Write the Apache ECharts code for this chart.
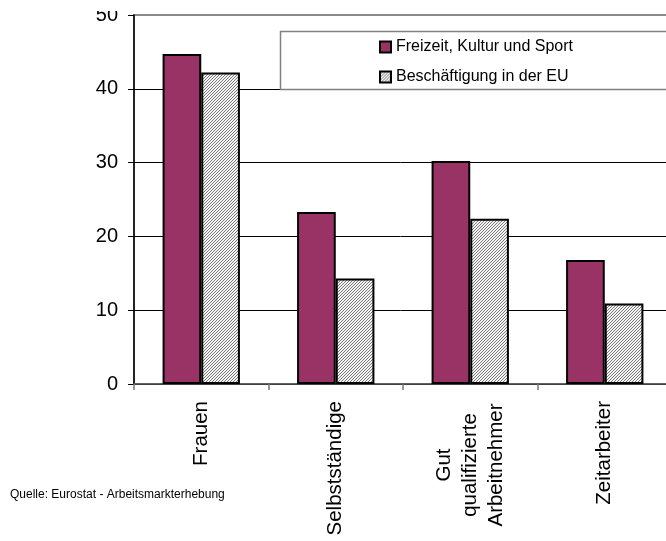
<!DOCTYPE html>
<html>
<head>
<meta charset="utf-8">
<script src="https://cdn.jsdelivr.net/npm/echarts@6/dist/echarts.min.js"></script>
<style>
html,body{margin:0;padding:0;background:#fff;}
#chart{width:666px;height:541px;}
</style>
</head>
<body>
<div id="chart"></div>
<script>
const categories = ['Frauen', 'Selbstständige', 'Gut\nqualifizierte\nArbeitnehmer', 'Zeitarbeiter'];
const seriesNames = ['Freizeit, Kultur und Sport', 'Beschäftigung in der EU'];
const freizeitValues = [44.7, 23.3, 30.2, 16.8];
const euValues = [42.2, 14.3, 22.4, 10.9];
const yTicks = [0, 10, 20, 30, 40, 50];
const sourceText = 'Quelle: Eurostat - Arbeitsmarkterhebung';

const FONT = "'Liberation Sans', Arial, sans-serif";

// fine hatch pattern
const pc = document.createElement('canvas');
pc.width = 3; pc.height = 3;
const pctx = pc.getContext('2d');
pctx.fillStyle = '#f4f4f4';
pctx.fillRect(0, 0, 3, 3);
pctx.fillStyle = '#7a7a7a';
pctx.fillRect(0, 2, 1, 1);
pctx.fillRect(1, 1, 1, 1);
pctx.fillRect(2, 0, 1, 1);

const chart = echarts.init(document.getElementById('chart'), null, {renderer: 'canvas'});
chart.setOption({
  animation: false,
  backgroundColor: '#ffffff',
  textStyle: {fontFamily: FONT},
  grid: {
    left: 134, top: 15, width: 538, bottom: 157,
    outerBoundsMode: 'none', containLabel: false,
    show: true, borderColor: '#8a8a8a', borderWidth: 2, backgroundColor: 'transparent'
  },
  legend: {
    orient: 'vertical',
    left: 374, top: 34,
    itemWidth: 11, itemHeight: 11, itemGap: 14,
    icon: 'rect',
    textStyle: {fontSize: 16, color: '#000', fontFamily: FONT},
    data: seriesNames
  },
  xAxis: {
    type: 'category',
    data: categories,
    axisLine: {show: true, lineStyle: {color: '#555', width: 1.5}},
    axisTick: {show: true, alignWithLabel: false, length: 6, lineStyle: {color: '#777', width: 1.5}},
    splitLine: {show: false},
    axisLabel: {
      rotate: 90, margin: 17, interval: 0,
      fontSize: 20.5, color: '#000', fontFamily: FONT,
      formatter: function (v) {
        if (v.indexOf('\n') >= 0) {
          return v.split('\n').map(s => '{c|' + s + '}').join('\n');
        }
        return v;
      },
      rich: {
        c: {width: 128, align: 'center', fontSize: 20.5, lineHeight: 26, color: '#000', fontFamily: FONT}
      }
    }
  },
  yAxis: {
    type: 'value',
    min: yTicks[0], max: yTicks[yTicks.length - 1], interval: 10,
    axisLine: {show: true, lineStyle: {color: '#000', width: 1.5}},
    axisTick: {show: true, inside: false, length: 6, lineStyle: {color: '#000', width: 1}},
    axisLabel: {fontSize: 20, color: '#000', margin: 16, fontFamily: FONT},
    splitLine: {show: true, lineStyle: {color: ['#000', '#000', '#000', '#000', '#000', '#8a8a8a'], width: 1}}
  },
  series: [
    {
      name: seriesNames[0], type: 'bar', data: freizeitValues,
      barGap: '0%', barCategoryGap: '42.5%',
      itemStyle: {color: '#993366', borderColor: '#000', borderWidth: 2}
    },
    {
      name: seriesNames[1], type: 'bar', data: euValues,
      barGap: '0%', barCategoryGap: '42.5%',
      itemStyle: {color: {image: pc, repeat: 'repeat'}, borderColor: '#000', borderWidth: 2}
    }
  ],
  graphic: [
    {
      type: 'rect', z: 3, silent: true,
      shape: {x: 280.5, y: 31.5, width: 420, height: 58},
      style: {fill: '#fff', stroke: '#808080', lineWidth: 1.5}
    },
    {
      type: 'rect', z: 100, silent: true,
      shape: {x: 85, y: 0, width: 40, height: 11},
      style: {fill: '#fff'}
    },
    {
      type: 'text', z: 10, left: 10, top: 489,
      style: {text: sourceText, fontSize: 12, fill: '#000', font: '12px ' + FONT}
    }
  ]
});
</script>
</body>
</html>
